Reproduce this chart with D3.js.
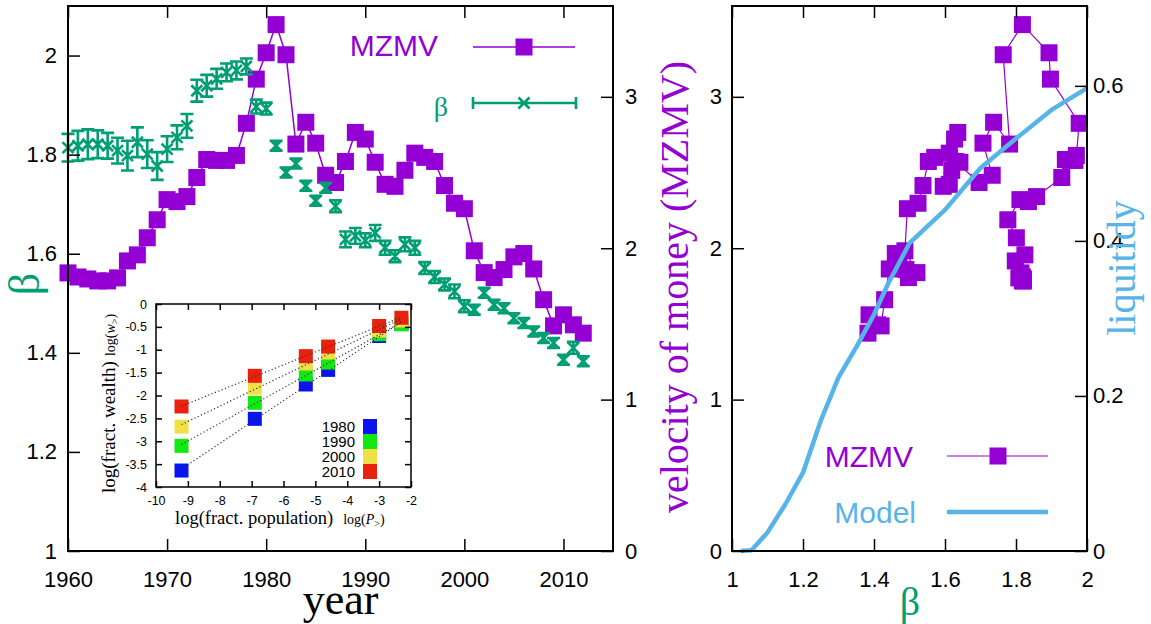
<!DOCTYPE html>
<meta charset="utf-8">
<style>
body { margin: 0; background: #fff; }
svg { display: block; }
</style>
<svg width="1151" height="624"></svg>
<script src="https://cdn.jsdelivr.net/npm/d3@7"></script>
<script>

// ---- data ----
var years = [1960, 1961, 1962, 1963, 1964, 1965, 1966, 1967, 1968, 1969,
             1970, 1971, 1972, 1973, 1974, 1975, 1976, 1977, 1978, 1979,
             1980, 1981, 1982, 1983, 1984, 1985, 1986, 1987, 1988, 1989,
             1990, 1991, 1992, 1993, 1994, 1995, 1996, 1997, 1998, 1999,
             2000, 2001, 2002, 2003, 2004, 2005, 2006, 2007, 2008, 2009,
             2010, 2011, 2012];

// velocity of money (MZMV), right axis of left panel
var mzmv = [1.837, 1.810, 1.797, 1.784, 1.784, 1.804, 1.916, 1.956, 2.069, 2.188,
            2.321, 2.308, 2.341, 2.467, 2.586, 2.580, 2.580, 2.613, 2.825, 3.117,
            3.291, 3.477, 3.278, 2.688, 2.832, 2.694, 2.482, 2.434, 2.573, 2.765,
            2.721, 2.568, 2.422, 2.409, 2.515, 2.628, 2.600, 2.573, 2.414, 2.297,
            2.261, 1.983, 1.839, 1.806, 1.859, 1.943, 1.965, 1.863, 1.660, 1.487,
            1.560, 1.494, 1.439];

// beta with error
var beta = [1.814, 1.818, 1.821, 1.821, 1.818, 1.808, 1.798, 1.825, 1.801, 1.777,
            1.811, 1.835, 1.858, 1.929, 1.939, 1.953, 1.966, 1.970, 1.978, 1.897,
            1.893, 1.818, 1.764, 1.782, 1.737, 1.707, 1.733, 1.696, 1.629, 1.636,
            1.627, 1.642, 1.612, 1.595, 1.619, 1.612, 1.571, 1.553, 1.538, 1.524,
            1.494, 1.487, 1.521, 1.497, 1.490, 1.470, 1.460, 1.443, 1.430, 1.420,
            1.386, 1.410, 1.383];
var betaErr = [0.028, 0.030, 0.030, 0.028, 0.026, 0.026, 0.030, 0.030, 0.028, 0.028,
               0.026, 0.024, 0.024, 0.022, 0.022, 0.020, 0.018, 0.018, 0.016, 0.014,
               0.012, 0.010, 0.010, 0.010, 0.010, 0.010, 0.010, 0.012, 0.016, 0.016,
               0.014, 0.016, 0.014, 0.012, 0.014, 0.014, 0.012, 0.012, 0.012, 0.014,
               0.012, 0.010, 0.010, 0.010, 0.010, 0.010, 0.010, 0.010, 0.010, 0.010,
               0.010, 0.012, 0.010];

// model curve, right panel
var modelBeta = [1.025, 1.055, 1.10, 1.15, 1.20, 1.25, 1.30, 1.35, 1.40, 1.44, 1.50, 1.60, 1.70, 1.80, 1.90, 2.00];
var modelLiq  = [0.000, 0.001, 0.024, 0.060, 0.101, 0.168, 0.224, 0.263, 0.305, 0.345, 0.397, 0.440, 0.494, 0.532, 0.569, 0.597];

// inset: log(fract. population) vs log(fract. wealth)
var insetPop = [-9.2, -6.9, -5.3, -4.6, -3.0, -2.3];
var wealth1980 = [-3.64, -2.51, -1.76, -1.44, -0.70, -0.44];
var wealth1990 = [-3.10, -2.16, -1.54, -1.28, -0.66, -0.44];
var wealth2000 = [-2.68, -1.83, -1.30, -1.06, -0.58, -0.36];
var wealth2010 = [-2.24, -1.57, -1.14, -0.93, -0.48, -0.30];
var insetYears = ["1980", "1990", "2000", "2010"];

// ticks
var yearTicks = [1960, 1970, 1980, 1990, 2000, 2010];
var betaTicks = [1, 1.2, 1.4, 1.6, 1.8, 2];
var velTicks = [0, 1, 2, 3];
var liqTicks = [0, 0.2, 0.4, 0.6];
var insetXTicks = [-10, -9, -8, -7, -6, -5, -4, -3, -2];
var insetYTicks = [0, -0.5, -1, -1.5, -2, -2.5, -3, -3.5, -4];

// ---- style ----
var sans = "'Liberation Sans', Arial, Helvetica, sans-serif";
var serif = "'Liberation Serif', 'Times New Roman', Times, serif";
var purple = "#9400d3", green = "#009e73", sky = "#56b4e9";
var insetColors = ["#0a14f0", "#12e812", "#f0e045", "#e8220e"];

var svg = d3.select("svg");

function styleAxis(g, size) {
  g.select(".domain").remove();
  g.attr("font-family", sans).attr("font-size", size);
  g.selectAll(".tick line").attr("stroke", "#000").attr("stroke-width", 1.5);
  g.selectAll(".tick text").attr("fill", "#000");
}
var fmt = function(d) { return String(d); };

// ================= left panel =================
var xYear = d3.scaleLinear().domain([1960, 2015]).range([68, 613]);
var yBeta = d3.scaleLinear().domain([1, 2.1]).range([551, 6]);
var yVel = d3.scaleLinear().domain([0, 3.6]).range([551, 6]);

var left = svg.append("g");

var velLine = d3.line()
  .x(function(d, i) { return xYear(years[i]); })
  .y(function(d) { return yVel(d); });

left.append("path")
  .datum(mzmv)
  .attr("d", velLine)
  .attr("fill", "none")
  .attr("stroke", purple)
  .attr("stroke-width", 1.5);

left.selectAll(".sq")
  .data(mzmv)
  .enter().append("rect")
  .attr("x", function(d, i) { return xYear(years[i]) - 8.5; })
  .attr("y", function(d) { return yVel(d) - 8.5; })
  .attr("width", 17)
  .attr("height", 17)
  .attr("fill", purple);

// beta points with error bars
function errPath(x, y0, y1, cap) {
  return "M" + x + "," + y0 + "V" + y1 +
         "M" + (x - cap) + "," + y0 + "H" + (x + cap) +
         "M" + (x - cap) + "," + y1 + "H" + (x + cap);
}
function crossPath(x, y, r) {
  return "M" + (x - r) + "," + (y - r) + "L" + (x + r) + "," + (y + r) +
         "M" + (x - r) + "," + (y + r) + "L" + (x + r) + "," + (y - r);
}

left.selectAll(".err")
  .data(beta)
  .enter().append("path")
  .attr("d", function(d, i) {
    var x = xYear(years[i]);
    return errPath(x, yBeta(d - betaErr[i]), yBeta(d + betaErr[i]), 6.5) +
           crossPath(x, yBeta(d), 5.5);
  })
  .attr("fill", "none")
  .attr("stroke", green)
  .attr("stroke-width", 2.6);

// inset
var ix = d3.scaleLinear().domain([-10, -2]).range([156, 411]);
var iy = d3.scaleLinear().domain([-4, 0]).range([487, 304]);
var inset = svg.append("g");

inset.append("rect")
  .attr("x", ix(-10)).attr("y", iy(0))
  .attr("width", ix(-2) - ix(-10)).attr("height", iy(-4) - iy(0))
  .attr("fill", "#fff");

var wealthSeries = [wealth1980, wealth1990, wealth2000, wealth2010];

wealthSeries.forEach(function(ws, k) {
  inset.selectAll(".w" + k)
    .data(ws)
    .enter().append("rect")
    .attr("x", function(d, i) { return ix(insetPop[i]) - 7; })
    .attr("y", function(d) { return iy(d) - 7; })
    .attr("width", 14)
    .attr("height", 14)
    .attr("fill", insetColors[k]);
});

// dotted fit lines
wealthSeries.forEach(function(ws) {
  var mx = d3.mean(insetPop), my = d3.mean(ws);
  var sxy = d3.sum(insetPop, function(x, i) { return (x - mx) * (ws[i] - my); });
  var sxx = d3.sum(insetPop, function(x) { return (x - mx) * (x - mx); });
  var slope = sxy / sxx, icpt = my - slope * mx;
  var x0 = insetPop[0], x1 = insetPop[insetPop.length - 1];
  inset.append("line")
    .attr("x1", ix(x0)).attr("y1", iy(icpt + slope * x0))
    .attr("x2", ix(x1)).attr("y2", iy(icpt + slope * x1))
    .attr("stroke", "#333")
    .attr("stroke-width", 1.2)
    .attr("stroke-dasharray", "1.2,2.4");
});

inset.append("g").attr("transform", "translate(0," + iy(-4) + ")")
  .call(d3.axisBottom(ix).tickValues(insetXTicks).tickSize(-6).tickPadding(9).tickFormat(fmt))
  .call(styleAxis, 12.5);
inset.append("g").attr("transform", "translate(0," + iy(0) + ")")
  .call(d3.axisTop(ix).tickValues(insetXTicks).tickSize(-6).tickFormat(""))
  .call(styleAxis, 12.5);
inset.append("g").attr("transform", "translate(" + ix(-10) + ",0)")
  .call(d3.axisLeft(iy).tickValues(insetYTicks).tickSize(-6).tickPadding(9).tickFormat(fmt))
  .call(styleAxis, 12.5);
inset.append("g").attr("transform", "translate(" + ix(-2) + ",0)")
  .call(d3.axisRight(iy).tickValues(insetYTicks).tickSize(-6).tickFormat(""))
  .call(styleAxis, 12.5);

inset.append("rect")
  .attr("x", ix(-10)).attr("y", iy(0))
  .attr("width", ix(-2) - ix(-10)).attr("height", iy(-4) - iy(0))
  .attr("fill", "none").attr("stroke", "#000").attr("stroke-width", 1.5);

// inset legend
insetYears.forEach(function(label, k) {
  inset.append("text")
    .attr("x", 355).attr("y", 431.5 + 15 * k)
    .attr("text-anchor", "end")
    .attr("font-family", sans).attr("font-size", 15)
    .text(label);
  inset.append("rect")
    .attr("x", 363).attr("y", 419 + 15 * k)
    .attr("width", 14).attr("height", 15)
    .attr("fill", insetColors[k]);
});

// inset axis labels
var ixl = inset.append("text")
  .attr("x", 175).attr("y", 524)
  .attr("font-family", serif).attr("font-size", 18.5);
ixl.append("tspan").text("log(fract. population)");
ixl.append("tspan").attr("dx", 10).attr("font-size", 14).text("log(");
ixl.append("tspan").attr("font-size", 14).attr("font-style", "italic").text("P");
ixl.append("tspan").attr("font-size", 10).attr("dy", 3).text(">");
ixl.append("tspan").attr("font-size", 14).attr("dy", -3).text(")");

var iyl = inset.append("text")
  .attr("transform", "translate(115,493) rotate(-90)")
  .attr("font-family", serif).attr("font-size", 19);
iyl.append("tspan").text("log(fract. wealth)");
iyl.append("tspan").attr("dx", 5).attr("font-size", 14).text("log(");
iyl.append("tspan").attr("font-size", 14).attr("font-style", "italic").text("w");
iyl.append("tspan").attr("font-size", 10).attr("dy", 3).text(">");
iyl.append("tspan").attr("font-size", 14).attr("dy", -3).text(")");

// left panel axes
left = svg.append("g");
left.append("g").attr("transform", "translate(0,551)")
  .call(d3.axisBottom(xYear).tickValues(yearTicks).tickSize(-12).tickPadding(20).tickFormat(fmt))
  .call(styleAxis, 22);
left.append("g").attr("transform", "translate(0,6)")
  .call(d3.axisTop(xYear).tickValues(yearTicks).tickSize(-12).tickFormat(""))
  .call(styleAxis, 22);
left.append("g").attr("transform", "translate(68,0)")
  .call(d3.axisLeft(yBeta).tickValues(betaTicks).tickSize(-12).tickPadding(11).tickFormat(fmt))
  .call(styleAxis, 22);
left.append("g").attr("transform", "translate(613,0)")
  .call(d3.axisRight(yVel).tickValues(velTicks).tickSize(-12).tickPadding(12).tickFormat(fmt))
  .call(styleAxis, 22);

left.append("rect")
  .attr("x", 68).attr("y", 6).attr("width", 613 - 68).attr("height", 551 - 6)
  .attr("fill", "none").attr("stroke", "#000").attr("stroke-width", 2);

// left legend
left.append("text")
  .attr("x", 438).attr("y", 56).attr("text-anchor", "end")
  .attr("font-family", sans).attr("font-size", 30).attr("fill", purple)
  .text("MZMV");
left.append("line")
  .attr("x1", 473).attr("x2", 575).attr("y1", 47).attr("y2", 47)
  .attr("stroke", purple).attr("stroke-width", 1.5);
left.append("rect")
  .attr("x", 524 - 8.5).attr("y", 47 - 8.5).attr("width", 17).attr("height", 17)
  .attr("fill", purple);

left.append("text")
  .attr("x", 448).attr("y", 116).attr("text-anchor", "end")
  .attr("font-family", serif).attr("font-size", 28).attr("fill", green)
  .text("β");
left.append("path")
  .attr("d", "M473,103H576M473,97V109M576,97V109" + crossPath(524, 103, 5.5))
  .attr("fill", "none").attr("stroke", green).attr("stroke-width", 2.6);

// left labels
left.append("text")
  .attr("transform", "translate(39,284) rotate(-90)")
  .attr("text-anchor", "middle")
  .attr("font-family", serif).attr("font-size", 44).attr("fill", green)
  .text("β");
left.append("text")
  .attr("x", 340.5).attr("y", 614).attr("text-anchor", "middle")
  .attr("font-family", serif).attr("font-size", 44).attr("fill", "#000")
  .text("year");

// ================= right panel =================
var xB = d3.scaleLinear().domain([1, 2]).range([732, 1087]);
var yV2 = d3.scaleLinear().domain([0, 3.6]).range([551, 6]);
var yLiq = d3.scaleLinear().domain([0, 0.703]).range([551, 6]);

var right = svg.append("g");

var scatterLine = d3.line()
  .x(function(d, i) { return xB(beta[i]); })
  .y(function(d) { return yV2(d); });

right.append("path")
  .datum(mzmv)
  .attr("d", scatterLine)
  .attr("fill", "none")
  .attr("stroke", purple)
  .attr("stroke-width", 1.2);

right.selectAll(".sq")
  .data(mzmv)
  .enter().append("rect")
  .attr("x", function(d, i) { return xB(beta[i]) - 8.5; })
  .attr("y", function(d) { return yV2(d) - 8.5; })
  .attr("width", 17)
  .attr("height", 17)
  .attr("fill", purple);

var modelLine = d3.line()
  .x(function(d, i) { return xB(modelBeta[i]); })
  .y(function(d) { return yLiq(d); });

right.append("path")
  .datum(modelLiq)
  .attr("d", modelLine)
  .attr("fill", "none")
  .attr("stroke", sky)
  .attr("stroke-width", 4.5)
  .attr("stroke-linejoin", "round");

right.append("g").attr("transform", "translate(0,551)")
  .call(d3.axisBottom(xB).tickValues(betaTicks).tickSize(-12).tickPadding(20).tickFormat(fmt))
  .call(styleAxis, 22);
right.append("g").attr("transform", "translate(0,6)")
  .call(d3.axisTop(xB).tickValues(betaTicks).tickSize(-12).tickFormat(""))
  .call(styleAxis, 22);
right.append("g").attr("transform", "translate(732,0)")
  .call(d3.axisLeft(yV2).tickValues(velTicks).tickSize(-12).tickPadding(10).tickFormat(fmt))
  .call(styleAxis, 22);
right.append("g").attr("transform", "translate(1087,0)")
  .call(d3.axisRight(yLiq).tickValues(liqTicks).tickSize(-12).tickPadding(6).tickFormat(fmt))
  .call(styleAxis, 22);

right.append("rect")
  .attr("x", 732).attr("y", 6).attr("width", 1087 - 732).attr("height", 551 - 6)
  .attr("fill", "none").attr("stroke", "#000").attr("stroke-width", 2);

// right legend
right.append("text")
  .attr("x", 913).attr("y", 467).attr("text-anchor", "end")
  .attr("font-family", sans).attr("font-size", 30).attr("fill", purple)
  .text("MZMV");
right.append("line")
  .attr("x1", 947).attr("x2", 1048).attr("y1", 456).attr("y2", 456)
  .attr("stroke", purple).attr("stroke-width", 1.2);
right.append("rect")
  .attr("x", 998 - 8.5).attr("y", 456 - 8.5).attr("width", 17).attr("height", 17)
  .attr("fill", purple);

right.append("text")
  .attr("x", 916).attr("y", 523).attr("text-anchor", "end")
  .attr("font-family", sans).attr("font-size", 30).attr("fill", sky)
  .text("Model");
right.append("line")
  .attr("x1", 947).attr("x2", 1048).attr("y1", 512).attr("y2", 512)
  .attr("stroke", sky).attr("stroke-width", 4.5);

// right labels
right.append("text")
  .attr("transform", "translate(688,287) rotate(-90)")
  .attr("text-anchor", "middle")
  .attr("font-family", serif).attr("font-size", 40).attr("fill", purple)
  .text("velocity of money (MZMV)");
right.append("text")
  .attr("transform", "translate(1135,268) rotate(-90)")
  .attr("text-anchor", "middle")
  .attr("font-family", serif).attr("font-size", 40).attr("fill", sky)
  .text("liquitidy");
right.append("text")
  .attr("x", 910).attr("y", 615).attr("text-anchor", "middle")
  .attr("font-family", serif).attr("font-size", 40).attr("fill", green)
  .text("β");

</script>
